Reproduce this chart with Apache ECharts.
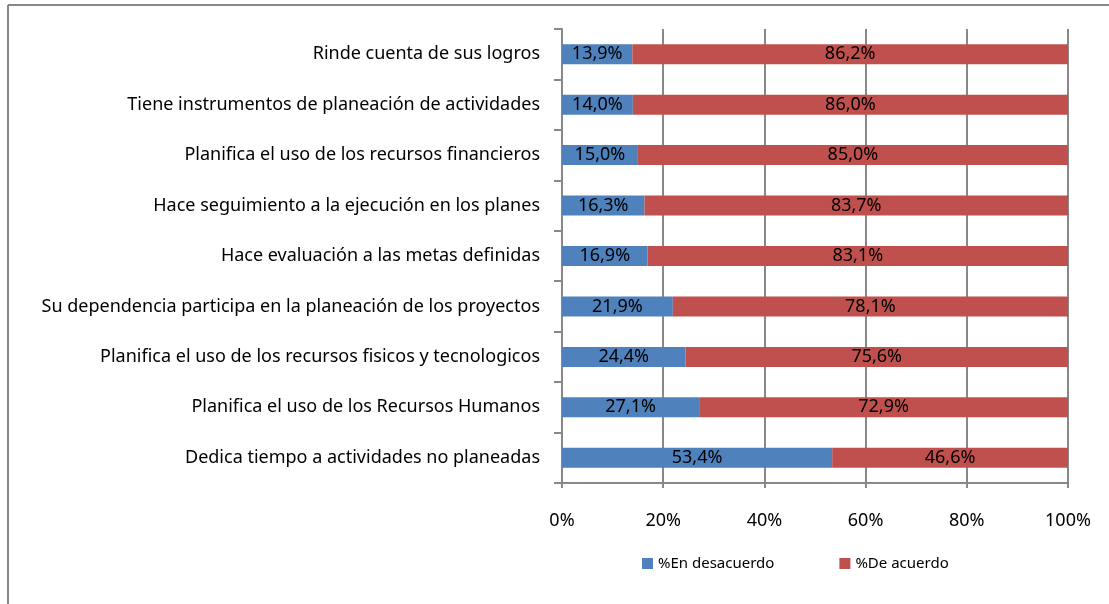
<!DOCTYPE html>
<html>
<head>
<meta charset="utf-8">
<script src="https://cdn.jsdelivr.net/npm/echarts@6/dist/echarts.min.js"></script>
<style>
html,body{margin:0;padding:0;background:#fff;}
#c{width:1109px;height:604px;}
</style>
</head>
<body>
<div id="c"></div>
<script>
const categories = [
  'Dedica tiempo a actividades no planeadas',
  'Planifica el uso de los Recursos Humanos',
  'Planifica el uso de los recursos fisicos y tecnologicos',
  'Su dependencia participa en la planeación de los proyectos',
  'Hace evaluación a las metas definidas',
  'Hace seguimiento a la ejecución en los planes',
  'Planifica el uso de los recursos financieros',
  'Tiene instrumentos de planeación de actividades',
  'Rinde cuenta de sus logros'
];
const desacuerdo = [53.4, 27.1, 24.4, 21.9, 16.9, 16.3, 15.0, 14.0, 13.9];
const deAcuerdo = [46.6, 72.9, 75.6, 78.1, 83.1, 83.7, 85.0, 86.0, 86.2];
const seriesNames = ['%En desacuerdo', '%De acuerdo'];
const xTicks = [0, 20, 40, 60, 80, 100];

const FONT = 'Noto Sans';
const fmt = v => v.toFixed(1).replace('.', ',') + '%';
const chart = echarts.init(document.getElementById('c'), null, {renderer: 'canvas'});
const labelStyle = {
  show: true, position: 'inside', color: '#000', fontFamily: FONT, fontSize: 18,
  formatter: p => fmt(p.value)
};
chart.setOption({
  animation: false,
  textStyle: {fontFamily: FONT},
  graphic: [
    {type: 'line', shape: {x1: 8, y1: 5, x2: 1109, y2: 5}, style: {stroke: '#888', lineWidth: 2}},
    {type: 'line', shape: {x1: 8, y1: 5, x2: 8, y2: 604}, style: {stroke: '#888', lineWidth: 2}}
  ],
  grid: {left: 562, right: 41, top: 29, bottom: 121, containLabel: false},
  legend: {
    left: 637, top: 551, itemWidth: 11, itemHeight: 11, itemGap: 65, icon: 'rect',
    textStyle: {fontFamily: FONT, fontSize: 15, color: '#000'},
    data: seriesNames
  },
  xAxis: {
    type: 'value', min: 0, max: 100, interval: 20,
    axisLine: {show: true, lineStyle: {color: '#888', width: 2}},
    axisTick: {show: true, length: 5, lineStyle: {color: '#888', width: 2}},
    splitLine: {show: true, lineStyle: {color: '#888', width: 2}},
    axisLabel: {
      color: '#000', fontFamily: FONT, fontSize: 18, margin: 29,
      formatter: v => xTicks.includes(v) ? v + '%' : ''
    }
  },
  yAxis: {
    type: 'category', data: categories,
    axisLine: {show: true, lineStyle: {color: '#888', width: 2}},
    axisTick: {show: true, length: 8, lineStyle: {color: '#888', width: 2}},
    axisLabel: {color: '#000', fontFamily: FONT, fontSize: 18, margin: 22}
  },
  series: [
    {name: seriesNames[0], type: 'bar', stack: 't', data: desacuerdo, barWidth: 20,
     itemStyle: {color: '#4F81BD'}, label: labelStyle},
    {name: seriesNames[1], type: 'bar', stack: 't', data: deAcuerdo, barWidth: 20,
     itemStyle: {color: '#C0504D'}, label: labelStyle}
  ]
});
</script>
</body>
</html>
